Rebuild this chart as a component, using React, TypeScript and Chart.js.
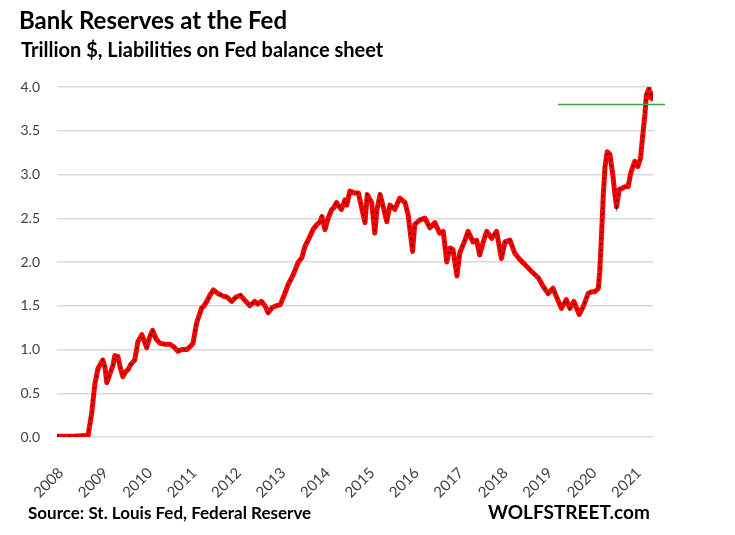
import React, { useEffect, useRef } from "react";
import { Chart, registerables } from "chart.js";

Chart.register(...registerables);

// Decimal-year dates and reserve balances, trillion $
const dates = [
  2008.0, 2008.2, 2008.4, 2008.7, 2008.78, 2008.85, 2008.92, 2009.03, 2009.08, 2009.12,
  2009.19, 2009.26, 2009.3, 2009.37, 2009.42, 2009.48, 2009.55, 2009.6, 2009.66, 2009.75,
  2009.82, 2009.91, 2009.96, 2010.02, 2010.07, 2010.15, 2010.23, 2010.32, 2010.43, 2010.54,
  2010.63, 2010.72, 2010.81, 2010.92, 2010.99, 2011.06, 2011.14, 2011.25, 2011.31, 2011.37,
  2011.44, 2011.52, 2011.62, 2011.74, 2011.82, 2011.93, 2012.03, 2012.13, 2012.23, 2012.34,
  2012.45, 2012.52, 2012.6, 2012.68, 2012.75, 2012.84, 2012.93, 2013.02, 2013.11, 2013.2,
  2013.31, 2013.43, 2013.51, 2013.58, 2013.67, 2013.76, 2013.85, 2013.92, 2013.96, 2014.03,
  2014.1, 2014.18, 2014.23, 2014.29, 2014.34, 2014.4, 2014.48, 2014.52, 2014.59, 2014.68,
  2014.78, 2014.85, 2014.93, 2014.98, 2015.08, 2015.15, 2015.2, 2015.27, 2015.34, 2015.42,
  2015.49, 2015.6, 2015.71, 2015.83, 2015.9, 2016.0, 2016.05, 2016.16, 2016.28, 2016.39,
  2016.5, 2016.61, 2016.69, 2016.77, 2016.84, 2016.91, 2017.0, 2017.06, 2017.18, 2017.25,
  2017.36, 2017.44, 2017.51, 2017.59, 2017.67, 2017.78, 2017.89, 2018.0, 2018.08, 2018.19,
  2018.3, 2018.41, 2018.53, 2018.68, 2018.83, 2018.94, 2019.05, 2019.16, 2019.24, 2019.35,
  2019.46, 2019.54, 2019.63, 2019.75, 2019.84, 2019.95, 2020.03, 2020.1, 2020.18, 2020.21,
  2020.24, 2020.27, 2020.29, 2020.33, 2020.38, 2020.44, 2020.51, 2020.55, 2020.59, 2020.65,
  2020.71, 2020.78, 2020.85, 2020.91, 2021.0, 2021.07, 2021.13, 2021.17, 2021.23, 2021.26,
  2021.32, 2021.35, 2021.38, 2021.41,
];

const reserves = [
  0.01, 0.01, 0.01, 0.02, 0.27, 0.6, 0.78, 0.88, 0.8, 0.62,
  0.72, 0.82, 0.93, 0.92, 0.8, 0.69, 0.75, 0.77, 0.83, 0.88,
  1.09, 1.17, 1.1, 1.02, 1.12, 1.22, 1.12, 1.07, 1.06, 1.06,
  1.03, 0.98, 1.0, 1.0, 1.03, 1.07, 1.3, 1.47, 1.5, 1.55,
  1.62, 1.68, 1.64, 1.61, 1.6, 1.55, 1.6, 1.62, 1.56, 1.5,
  1.55, 1.52, 1.55, 1.5, 1.42, 1.48, 1.5, 1.51, 1.62, 1.74,
  1.85, 2.0, 2.05, 2.18, 2.27, 2.37, 2.43, 2.46, 2.52, 2.37,
  2.5, 2.6, 2.62, 2.68, 2.64, 2.6, 2.71, 2.65, 2.81, 2.79,
  2.79, 2.63, 2.45, 2.77, 2.68, 2.33, 2.6, 2.77, 2.63, 2.46,
  2.65, 2.6, 2.73, 2.68, 2.54, 2.12, 2.43, 2.48, 2.5, 2.39,
  2.45, 2.33, 2.35, 2.0, 2.16, 2.14, 1.84, 2.1, 2.25, 2.35,
  2.23, 2.25, 2.08, 2.23, 2.35, 2.27, 2.35, 2.04, 2.23, 2.25,
  2.1, 2.03, 1.97, 1.89, 1.82, 1.72, 1.64, 1.7, 1.6, 1.47,
  1.57, 1.47, 1.55, 1.4, 1.49, 1.64, 1.66, 1.66, 1.7, 1.88,
  2.18, 2.52, 2.75, 3.09, 3.26, 3.23, 2.98, 2.79, 2.63, 2.83,
  2.84, 2.86, 2.86, 3.02, 3.15, 3.09, 3.19, 3.4, 3.7, 3.91,
  3.98, 3.88, 3.93, 3.84,
];

// Green reference level line
const refLineX = [2019.27, 2021.68];
const refLineY = [3.8, 3.8];

const yearTicks = [2008, 2009, 2010, 2011, 2012, 2013, 2014, 2015, 2016, 2017, 2018, 2019, 2020, 2021];
const yTicks = [0, 0.5, 1.0, 1.5, 2.0, 2.5, 3.0, 3.5, 4.0];

const titleText = "Bank Reserves at the Fed";
const subtitleText = "Trillion $, Liabilities on Fed balance sheet";
const sourceText = "Source: St. Louis Fed, Federal Reserve";
const brandText = "WOLFSTREET.com";

const FONT = "Lato, 'Open Sans', sans-serif";

export default function App() {
  const ref = useRef<HTMLCanvasElement | null>(null);

  useEffect(() => {
    if (!ref.current) return;
    const series = dates.map((d, i) => ({ x: d, y: reserves[i] }));
    const refLine = refLineX.map((d, i) => ({ x: d, y: refLineY[i] }));
    const chart = new Chart(ref.current, {
      type: "line",
      data: {
        datasets: [
          {
            data: refLine,
            borderColor: "#3aa84a",
            borderWidth: 1.3,
            pointRadius: 0,
            clip: false as any,
            order: 0,
          },
          {
            data: series,
            borderColor: "#1a1a1a",
            borderWidth: 1.5,
            borderDash: [1.5, 4.5],
            pointRadius: 0,
            order: 1,
          },
          {
            data: series,
            borderColor: "#ff0000",
            borderWidth: 5,
            pointRadius: 0,
            borderJoinStyle: "round",
            order: 2,
          },
        ],
      },
      options: {
        responsive: false,
        animation: false,
        devicePixelRatio: 1,
        layout: { padding: { top: 87, right: 82, bottom: 0, left: 0 } },
        plugins: { legend: { display: false }, tooltip: { enabled: false }, title: { display: false } },
        elements: { line: { tension: 0 } },
        scales: {
          x: {
            type: "linear",
            min: 2008,
            max: 2021.41,
            afterBuildTicks: (s: any) => {
              s.ticks = yearTicks.map((v) => ({ value: v }));
            },
            afterFit: (s: any) => {
              s.height = 98;
            },
            ticks: {
              autoSkip: false,
              minRotation: 45,
              maxRotation: 45,
              padding: 19,
              labelOffset: 4,
              color: "#404040",
              font: { family: FONT, size: 15 },
              callback: (v: any) => String(v),
            },
            grid: { display: false },
            border: { display: false },
          },
          y: {
            type: "linear",
            min: 0,
            max: 4,
            afterBuildTicks: (s: any) => {
              s.ticks = yTicks.map((v) => ({ value: v }));
            },
            afterFit: (s: any) => {
              s.width = 57;
            },
            ticks: {
              padding: 17,
              color: "#404040",
              font: { family: FONT, size: 14 },
              callback: (v: any) => Number(v).toFixed(1),
            },
            grid: { color: "#d9d9d9", lineWidth: 1.5, drawTicks: false },
            border: { display: false },
          },
        },
      },
    });
    return () => chart.destroy();
  }, []);

  const textBase: React.CSSProperties = {
    position: "absolute",
    fontFamily: FONT,
    fontWeight: 700,
    lineHeight: 1,
    whiteSpace: "nowrap",
    color: "#000",
  };

  return (
    <div style={{ position: "absolute", left: 0, top: 0, width: 735, height: 535, background: "#fff" }}>
      <canvas ref={ref} width={735} height={535} style={{ position: "absolute", left: 0, top: 0 }} />
      <div style={{ ...textBase, left: 19, top: 8, fontSize: 24 }}>{titleText}</div>
      <div style={{ ...textBase, left: 21, top: 39, fontSize: 20 }}>{subtitleText}</div>
      <div style={{ ...textBase, left: 28, top: 504, fontSize: 17 }}>{sourceText}</div>
      <div style={{ ...textBase, left: 488, top: 502, fontSize: 19 }}>{brandText}</div>
    </div>
  );
}
